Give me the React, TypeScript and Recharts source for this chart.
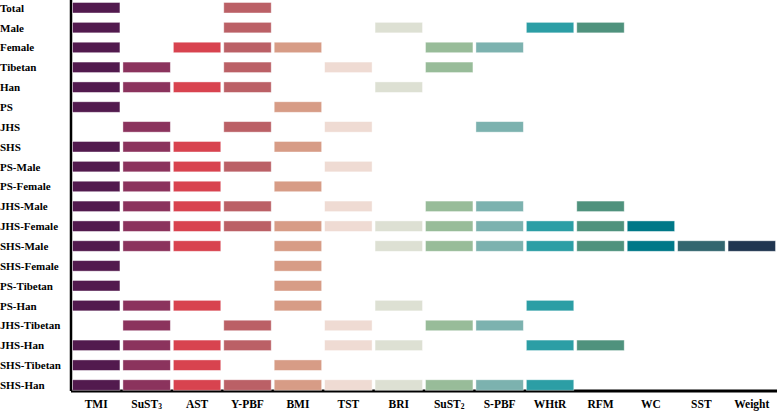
import React from "react";
import { ScatterChart, Scatter, XAxis, YAxis } from "recharts";

// row groups (top to bottom)
const rows = [
  "Total", "Male", "Female", "Tibetan", "Han", "PS", "JHS", "SHS",
  "PS-Male", "PS-Female", "JHS-Male", "JHS-Female", "SHS-Male", "SHS-Female",
  "PS-Tibetan", "PS-Han", "JHS-Tibetan", "JHS-Han", "SHS-Tibetan", "SHS-Han",
];

// indicators (left to right); sub = subscript part of the label
const columns = [
  { name: "TMI" }, { name: "SuST", sub: "3" }, { name: "AST" }, { name: "Y-PBF" },
  { name: "BMI" }, { name: "TST" }, { name: "BRI" }, { name: "SuST", sub: "2" },
  { name: "S-PBF" }, { name: "WHtR" }, { name: "RFM" }, { name: "WC" },
  { name: "SST" }, { name: "Weight" },
];

const colors = [
  "#521a4e", "#8b335d", "#d8434f", "#bb6066", "#d79c86", "#efdbd3", "#dde0d3",
  "#98bc99", "#7cb2af", "#2c9ea5", "#4f927d", "#007888", "#33666f", "#203550",
];

// groups in which each indicator is marked
const tmiRows = ["Total", "Male", "Female", "Tibetan", "Han", "PS", "SHS", "PS-Male", "PS-Female", "JHS-Male", "JHS-Female", "SHS-Male", "SHS-Female", "PS-Tibetan", "PS-Han", "JHS-Han", "SHS-Tibetan", "SHS-Han"];
const sust3Rows = ["Tibetan", "Han", "JHS", "SHS", "PS-Male", "PS-Female", "JHS-Male", "JHS-Female", "SHS-Male", "PS-Han", "JHS-Tibetan", "JHS-Han", "SHS-Tibetan", "SHS-Han"];
const astRows = ["Female", "Han", "SHS", "PS-Male", "PS-Female", "JHS-Male", "JHS-Female", "SHS-Male", "PS-Han", "JHS-Han", "SHS-Tibetan", "SHS-Han"];
const ypbfRows = ["Total", "Male", "Female", "Tibetan", "Han", "JHS", "PS-Male", "JHS-Male", "JHS-Female", "JHS-Tibetan", "JHS-Han", "SHS-Han"];
const bmiRows = ["Female", "PS", "SHS", "PS-Female", "JHS-Female", "SHS-Male", "SHS-Female", "PS-Tibetan", "PS-Han", "SHS-Tibetan", "SHS-Han"];
const tstRows = ["Tibetan", "JHS", "PS-Male", "JHS-Male", "JHS-Female", "JHS-Tibetan", "JHS-Han", "SHS-Han"];
const briRows = ["Male", "Han", "JHS-Female", "SHS-Male", "PS-Han", "JHS-Han", "SHS-Han"];
const sust2Rows = ["Female", "Tibetan", "JHS-Male", "JHS-Female", "SHS-Male", "JHS-Tibetan", "SHS-Han"];
const spbfRows = ["Female", "JHS", "JHS-Male", "JHS-Female", "SHS-Male", "JHS-Tibetan", "SHS-Han"];
const whtrRows = ["Male", "JHS-Female", "SHS-Male", "PS-Han", "JHS-Han", "SHS-Han"];
const rfmRows = ["Male", "JHS-Male", "JHS-Female", "SHS-Male", "JHS-Han"];
const wcRows = ["JHS-Female", "SHS-Male"];
const sstRows = ["SHS-Male"];
const weightRows = ["SHS-Male"];

const marks = [
  tmiRows, sust3Rows, astRows, ypbfRows, bmiRows, tstRows, briRows,
  sust2Rows, spbfRows, whtrRows, rfmRows, wcRows, sstRows, weightRows,
];

const WIDTH = 778;
const HEIGHT = 411;
const Y_AXIS_W = 71;
const MARGIN_RIGHT = 1;
const CELL_W = ((WIDTH - Y_AXIS_W - MARGIN_RIGHT) / columns.length) - 3;
const CELL_H = 10.5;

const labelStyle = {
  fontFamily: "'Liberation Serif', 'DejaVu Serif', serif",
  fontWeight: 700,
};

const Cell = (props: any) => {
  const { cx, cy, fill } = props;
  if (cx == null || cy == null) return null;
  return (
    <rect
      x={cx - CELL_W / 2}
      y={cy - CELL_H / 2}
      width={CELL_W}
      height={CELL_H}
      fill={fill}
      stroke="#ffffff"
      strokeOpacity={0.5}
      strokeWidth={0.8}
    />
  );
};

const XTick = (props: any) => {
  const { x, y, payload } = props;
  const col = columns[payload.value];
  if (!col) return null;
  return (
    <text x={x} y={y} dy={8.5} textAnchor="middle" style={{ ...labelStyle, fontSize: 11.5 }} fill="#000">
      {col.name}
      {col.sub && (
        <tspan style={{ fontSize: 7.5 }} dy={1.8}>{col.sub}</tspan>
      )}
    </text>
  );
};

const YTick = (props: any) => {
  const { y, payload } = props;
  return (
    <text x={0} y={y} dy="0.36em" textAnchor="start" style={{ ...labelStyle, fontSize: 11 }} fill="#000">
      {rows[payload.value]}
    </text>
  );
};

export default function App() {
  return (
    <div style={{ position: "absolute", left: 0, top: 0, background: "#fff" }}>
      <ScatterChart
        width={WIDTH}
        height={HEIGHT}
        margin={{ top: 0, right: MARGIN_RIGHT, bottom: 0, left: 0 }}
      >
        <XAxis
          type="number"
          dataKey="x"
          domain={[-0.5, columns.length - 0.5]}
          ticks={columns.map((_, i) => i)}
          interval={0}
          height={20}
          tickLine={false}
          axisLine={{ stroke: "#000", strokeWidth: 3 }}
          tick={<XTick />}
          allowDataOverflow
        />
        <YAxis
          type="number"
          dataKey="y"
          domain={[-0.39, rows.length - 0.7]}
          ticks={rows.map((_, i) => i)}
          interval={0}
          reversed
          width={Y_AXIS_W}
          tickLine={false}
          axisLine={{ stroke: "#000", strokeWidth: 2.5 }}
          tick={<YTick />}
          allowDataOverflow
        />
        {marks.map((list, ci) => (
          <Scatter
            key={ci}
            name={columns[ci].name + (columns[ci].sub || "")}
            data={list.map((r) => ({ x: ci, y: rows.indexOf(r) }))}
            fill={colors[ci]}
            shape={<Cell />}
            isAnimationActive={false}
          />
        ))}
      </ScatterChart>
    </div>
  );
}
